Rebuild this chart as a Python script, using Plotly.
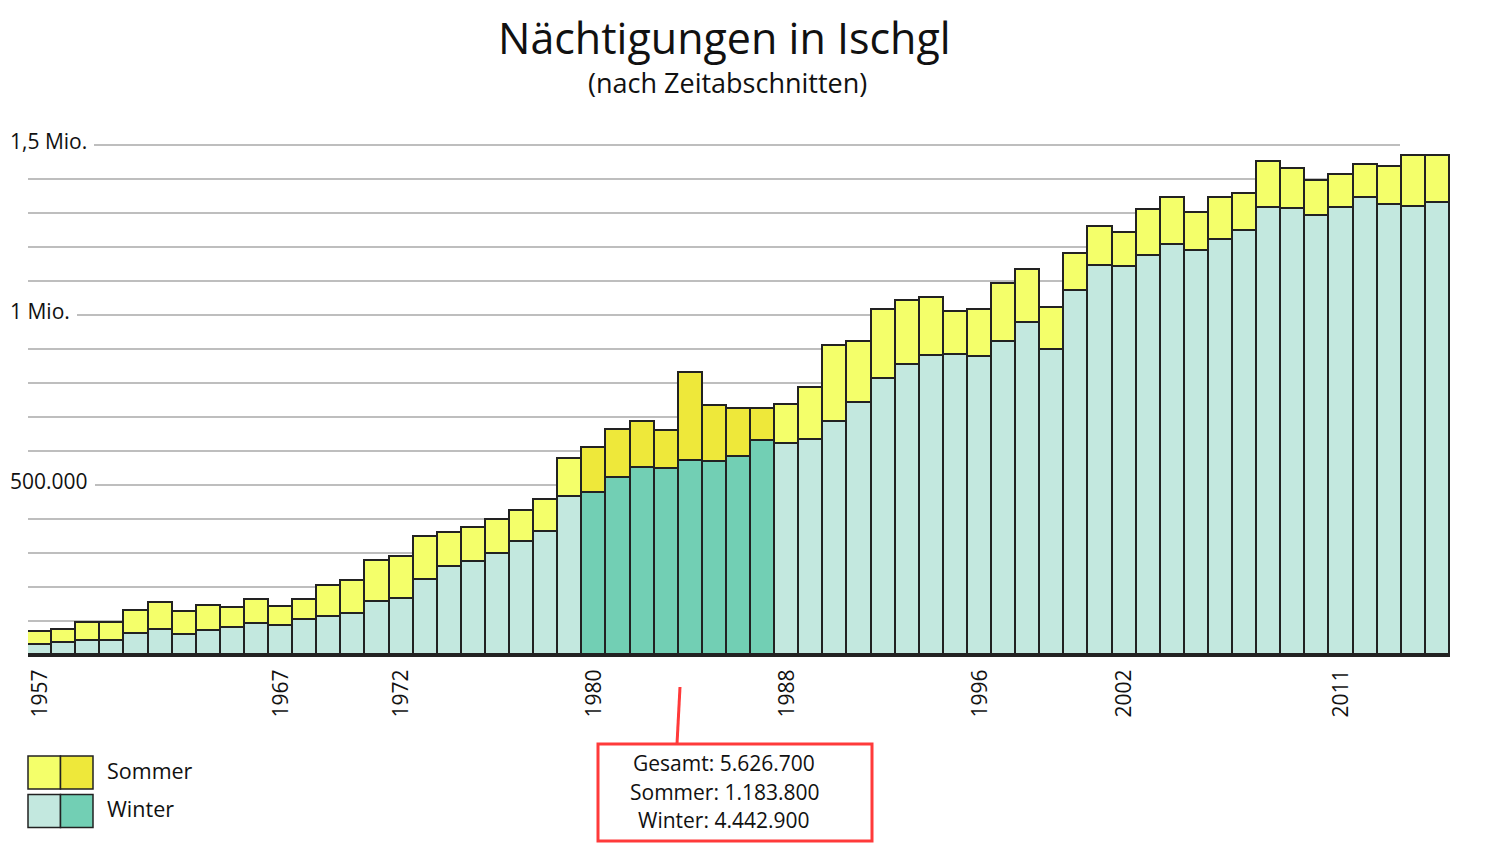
import plotly.graph_objects as go

# ---------------- data ----------------
years = list(range(1957, 2016))

winter = [29, 34, 42, 42, 63, 75, 60, 72, 78, 91,
          84, 102, 112, 120, 155, 166, 220, 258, 274, 297,
          331, 362, 464, 477, 520, 549, 547, 572, 568, 582,
          628, 622, 632, 684, 741, 813, 852, 878, 882, 877,
          922, 976, 897, 1072, 1144, 1141, 1173, 1206, 1187, 1222,
          1248, 1314, 1311, 1290, 1316, 1344, 1323, 1318, 1330]

sommer = [39, 41, 51, 51, 66, 78, 67, 72, 59, 70,
          57, 61, 90, 99, 122, 123, 126, 100, 101, 100,
          94, 95, 113, 133, 141, 137, 113, 258, 165, 141,
          96, 114, 154, 224, 179, 203, 190, 173, 126, 139,
          169, 156, 123, 107, 116, 101, 135, 137, 113, 122,
          109, 137, 118, 103, 96, 96, 113, 150, 138]

highlight_years = list(range(1980, 1988))

tick_years = [1957, 1967, 1972, 1980, 1988, 1996, 2002, 2011]

y_label_vals = [1500000, 1000000, 500000]
y_label_text = ["1,5 Mio.", "1 Mio.", "500.000"]
grid_vals = list(range(100000, 1500001, 100000))

title_text = "Nächtigungen in Ischgl"
subtitle_text = "(nach Zeitabschnitten)"
legend_labels = ["Sommer", "Winter"]
box_lines = ["Gesamt: 5.626.700", "Sommer: 1.183.800", "Winter: 4.442.900"]

# ---------------- styles ----------------
C_SOM = "#f4ff6a"
C_SOM_H = "#eee83a"
C_WIN = "#c3e8df"
C_WIN_H = "#72cfb4"
EDGE = "#222222"
FONT = "Open Sans"
RED = "#ff3a3a"

OFF = 8                      # page body margin
W, H = 1489 - 2 * OFF, 853 - 2 * OFF
L, R = 28, 1450              # plot area in screen px
T, B = 111, 655

def px_x(px):
    return (px - L) / (R - L)

def px_y(py):
    return (B - py) / (B - T)

win_colors = [C_WIN_H if y in highlight_years else C_WIN for y in years]
som_colors = [C_SOM_H if y in highlight_years else C_SOM for y in years]

fig = go.Figure()
fig.add_trace(go.Bar(
    x=years, y=[v * 1000 for v in winter], name=legend_labels[1],
    marker=dict(color=win_colors, line=dict(color=EDGE, width=1.7)),
    width=1,
))
fig.add_trace(go.Bar(
    x=years, y=[v * 1000 for v in sommer], name=legend_labels[0],
    marker=dict(color=som_colors, line=dict(color=EDGE, width=1.7)),
    width=1,
))

shapes = []
# gridlines
label_start = {1500000: 94, 1000000: 77, 500000: 95}
for g in grid_vals:
    x0 = px_x(label_start.get(g, 28))
    shapes.append(dict(type="line", xref="paper", yref="y",
                       x0=x0, x1=px_x(1400), y0=g, y1=g,
                       line=dict(color="#a9a9a9", width=1.3), layer="below"))

# legend boxes
for i, (c1, c2) in enumerate([(C_SOM, C_SOM_H), (C_WIN, C_WIN_H)]):
    y0 = 756 + i * 38.5
    y1 = y0 + 33
    shapes.append(dict(type="rect", xref="paper", yref="paper",
                       x0=px_x(28), x1=px_x(60.5), y0=px_y(y1), y1=px_y(y0),
                       fillcolor=c1, line=dict(color=EDGE, width=1.5)))
    shapes.append(dict(type="rect", xref="paper", yref="paper",
                       x0=px_x(60.5), x1=px_x(93), y0=px_y(y1), y1=px_y(y0),
                       fillcolor=c2, line=dict(color=EDGE, width=1.5)))

# annotation box and pointer
shapes.append(dict(type="rect", xref="paper", yref="paper",
                   x0=px_x(598), x1=px_x(872), y0=px_y(841), y1=px_y(744),
                   line=dict(color=RED, width=3)))
shapes.append(dict(type="line", xref="paper", yref="paper",
                   x0=px_x(680), x1=px_x(677), y0=px_y(687), y1=px_y(744),
                   line=dict(color=RED, width=3)))

annotations = []
annotations.append(dict(text=title_text, xref="paper", yref="paper",
                        x=px_x(724), y=px_y(37), xanchor="center", yanchor="middle",
                        showarrow=False, font=dict(family=FONT, size=43, color="#111")))
annotations.append(dict(text=subtitle_text, xref="paper", yref="paper",
                        x=px_x(727), y=px_y(82), xanchor="center", yanchor="middle",
                        showarrow=False, font=dict(family=FONT, size=27, color="#111")))
for v, t in zip(y_label_vals, y_label_text):
    annotations.append(dict(text=t, xref="paper", yref="y", x=px_x(8), y=v,
                            xanchor="left", yanchor="middle", yshift=4,
                            showarrow=False, font=dict(family=FONT, size=21, color="#111")))
for i, t in enumerate(legend_labels):
    annotations.append(dict(text=t, xref="paper", yref="paper",
                            x=px_x(105), y=px_y(770 + i * 38), xanchor="left", yanchor="middle",
                            showarrow=False, font=dict(family=FONT, size=21.5, color="#111")))
for i, t in enumerate(box_lines):
    annotations.append(dict(text=t, xref="paper", yref="paper",
                            x=px_x(724), y=px_y(763 + i * 28.5), xanchor="center", yanchor="middle",
                            showarrow=False, font=dict(family=FONT, size=21, color="#111")))

fig.update_layout(
    width=W, height=H,
    margin=dict(l=L - OFF, r=(W + OFF) - R, t=T - OFF, b=(H + OFF) - B, pad=0),
    paper_bgcolor="white", plot_bgcolor="white",
    barmode="stack", bargap=0, showlegend=False,
    shapes=shapes, annotations=annotations,
    xaxis=dict(range=[1956.5, 2015.5], tickvals=tick_years,
               ticktext=[str(y) for y in tick_years], tickangle=-90,
               ticks="outside", ticklen=4, tickcolor="rgba(0,0,0,0)",
               tickfont=dict(family=FONT, size=21, color="#111"),
               showgrid=False, zeroline=False,
               showline=True, linecolor=EDGE, linewidth=2),
    yaxis=dict(range=[0, 1600000], showgrid=False, zeroline=False,
               showticklabels=False, ticks=""),
)

fig.write_html("out.html")
